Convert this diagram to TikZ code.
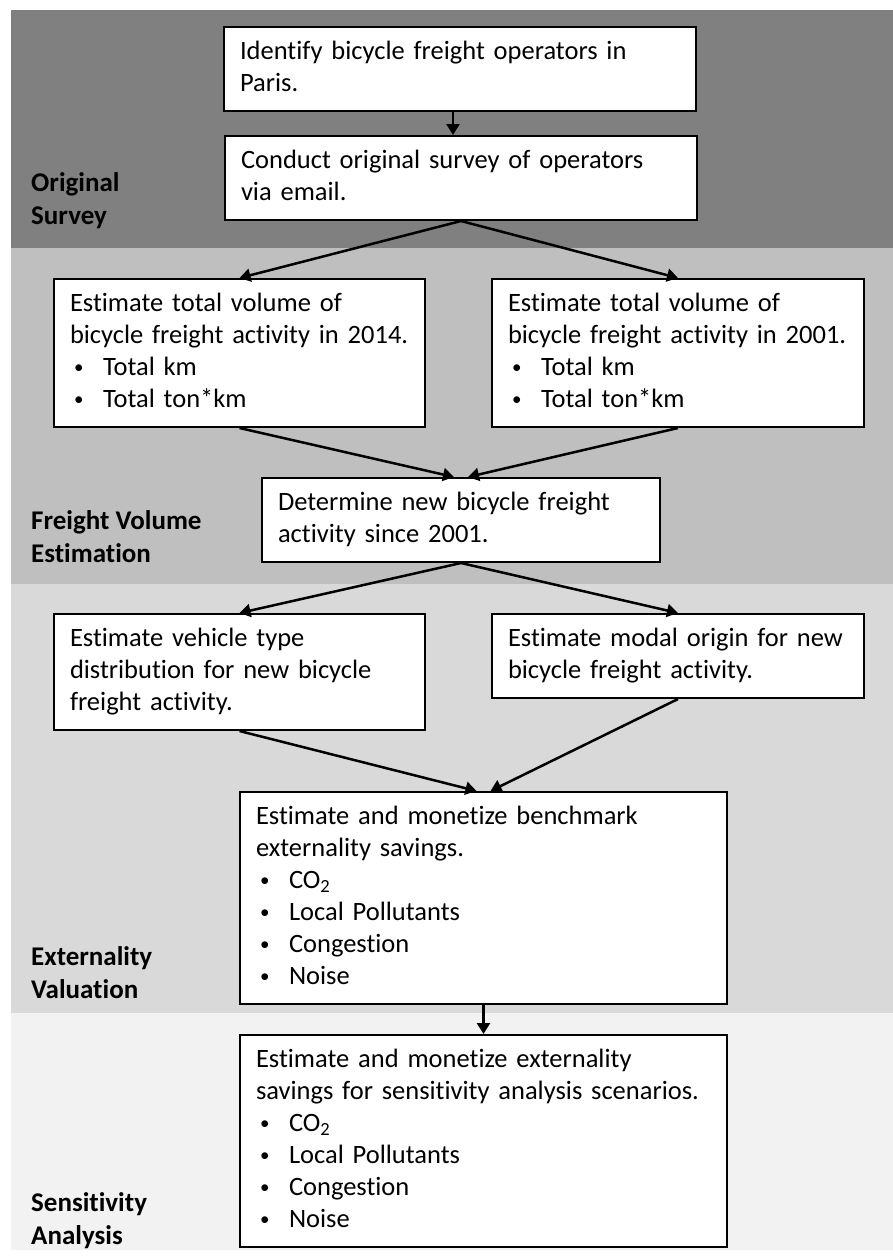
\documentclass[tikz,border=0pt]{standalone}
\usepackage{fontspec}
\setmainfont{Carlito}[Ligatures=NoCommon]
\usetikzlibrary{arrows.meta}
\definecolor{surveyband}{gray}{0.502}
\definecolor{volumeband}{gray}{0.749}
\definecolor{valueband}{gray}{0.851}
\definecolor{sensband}{gray}{0.949}
\newcommand{\bitem}[1]{\\\hspace*{4pt}\makebox[29pt][l]{\raisebox{1.5pt}{\fontsize{19}{19}\selectfont\textbullet}}#1}
\tikzset{
  stepbox/.style={draw=black, line width=2pt, fill=white, anchor=north west,
    align=left, inner xsep=16pt, inner ysep=10pt,
    font={\fontsize{26.5}{32}\selectfont},
    execute at begin node=\strut, execute at end node=\strut},
  phase/.style={anchor=north west, align=left, inner sep=0pt,
    font={\fontsize{27}{33}\selectfont\bfseries}},
  flow/.style={line width=2.5pt, -{Triangle[length=11pt,width=13pt]}}
}

\begin{document}
\begin{tikzpicture}[x=1pt,y=-1pt]

    \useasboundingbox (0,0) rectangle (893,1258);

    % phase bands
    \fill[surveyband] (11,10) rectangle (893,248);
    \fill[volumeband] (11,248) rectangle (893,584);
    \fill[valueband] (11,584) rectangle (893,1013);
    \fill[sensband] (11,1013) rectangle (893,1250);

    % phase labels
    \node[phase] (lsurvey) at (31,168) {\strut Original\\Survey};
    \node[phase] (lvolume) at (31,506) {\strut Freight Volume\\Estimation};
    \node[phase] (lvalue) at (31,942) {\strut Externality\\Valuation};
    \node[phase] (lsens) at (31,1188) {\strut Sensitivity\\Analysis};

    % steps
    \node[stepbox, text width=440pt] (identify) at (223,26)
        {Identify bicycle freight operators in\\Paris.};
    \node[stepbox, text width=440pt] (survey) at (224,135)
        {Conduct original survey of operators\\via email.};
    \node[stepbox, text width=339pt] (vol14) at (53,278)
        {Estimate total volume of\\bicycle freight activity in 2014.%
         \bitem{Total km}\bitem{Total ton*km}};
    \node[stepbox, text width=340pt] (vol01) at (491,278)
        {Estimate total volume of\\bicycle freight activity in 2001.%
         \bitem{Total km}\bitem{Total ton*km}};
    \node[stepbox, text width=366pt] (newact) at (261,477)
        {Determine new bicycle freight\\activity since 2001.};
    \node[stepbox, text width=339pt] (vtype) at (53,613)
        {Estimate vehicle type\\distribution for new bicycle\\freight activity.};
    \node[stepbox, text width=340pt, text depth=41.6pt] (modal) at (491,613)
        {Estimate modal origin for new\\bicycle freight activity.};
    \node[stepbox, text width=455pt] (bench) at (239,791)
        {Estimate and monetize benchmark\\externality savings.%
         \bitem{CO\textsubscript{2}}\bitem{Local Pollutants}%
         \bitem{Congestion}\bitem{Noise}};
    \node[stepbox, text width=455pt] (sens) at (239,1034)
        {Estimate and monetize externality\\savings for sensitivity analysis scenarios.%
         \bitem{CO\textsubscript{2}}\bitem{Local Pollutants}%
         \bitem{Congestion}\bitem{Noise}};

    % connectors
    \draw[flow] ([xshift=-7pt]identify.south) -- ([xshift=-7pt]identify.south |- survey.north);
    \draw[flow] (survey.south) -- (vol14.north);
    \draw[flow] (survey.south) -- (vol01.north);
    \draw[flow] (vol14.south) -- ([xshift=-7pt]newact.north);
    \draw[flow] (vol01.south) -- ([xshift=7pt]newact.north);
    \draw[flow] (newact.south) -- (vtype.north);
    \draw[flow] (newact.south) -- (modal.north);
    \draw[flow] (vtype.south) -- ([xshift=-7pt]bench.north);
    \draw[flow] (modal.south) -- ([xshift=7pt]bench.north);
    \draw[flow] (bench.south) -- (sens.north);

\end{tikzpicture}
\end{document}
